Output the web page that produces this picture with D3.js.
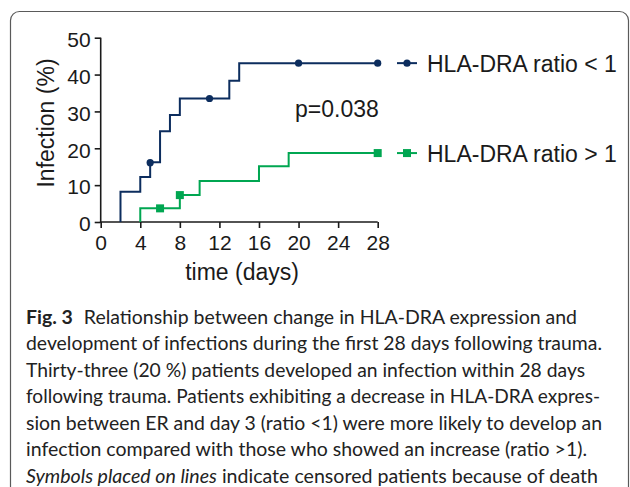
<!DOCTYPE html>
<html><head><meta charset="utf-8">
<script src="https://cdn.jsdelivr.net/npm/d3@7"></script>
<style>body{margin:0;background:#fff}svg{display:block}</style>
</head><body>
<svg id="c" width="630" height="487"></svg>
<script>
// Data
const seriesNames = ["HLA-DRA ratio < 1", "HLA-DRA ratio > 1"];
const lowDays   = [2, 4, 5, 6, 7, 8, 13, 14, 28];
const lowVals   = [8.2, 12.2, 16.2, 24.6, 29.0, 33.5, 38.3, 43.1, 43.1];
const lowCensorDays = [5, 11, 20, 28];
const lowCensorVals = [16.1, 33.5, 43.1, 43.1];
const highDays  = [4, 8, 10, 16, 19, 28];
const highVals  = [3.7, 7.3, 11.1, 15.1, 18.7, 18.7];
const highCensorDays = [6, 8, 28];
const highCensorVals = [3.7, 7.3, 18.7];
const xTicks = [0, 4, 8, 12, 16, 20, 24, 28];
const yTicks = [0, 10, 20, 30, 40, 50];
const pText = "p=0.038";
const captionBold = "Fig. 3";
const captionLines = [
  "Relationship between change in HLA-DRA expression and",
  "development of infections during the first 28 days following trauma.",
  "Thirty-three (20 %) patients developed an infection within 28 days",
  "following trauma. Patients exhibiting a decrease in HLA-DRA expres-",
  "sion between ER and day 3 (ratio <1) were more likely to develop an",
  "infection compared with those who showed an increase (ratio >1).",
  "Symbols placed on lines indicate censored patients because of death"
];
const captionEnds = [577, 602, 585, 600, 602, 587, 598];

const blue = "#0c2d5e", green = "#00a651", ink = "#1a1a1a";
const svg = d3.select("#c");

// card
svg.append("rect").attr("x",10.5).attr("y",11.5).attr("width",618).attr("height",520)
  .attr("rx",9).attr("fill","none").attr("stroke","#5a5a5a").attr("stroke-width",1.2);

const x = d3.scaleLinear().domain([0,28]).range([100.7,377.7]);
const y = d3.scaleLinear().domain([0,50]).range([222,37.7]);

const font = "'Liberation Sans', Arial, Helvetica, sans-serif";

const yAxis = svg.append("g").attr("transform",`translate(${x(0)},0)`)
  .call(d3.axisLeft(y).tickValues(yTicks).tickSize(6).tickPadding(4));
const xAxis = svg.append("g").attr("transform",`translate(0,${y(0)})`)
  .call(d3.axisBottom(x).tickValues(xTicks).tickSize(6).tickPadding(7));
[yAxis, xAxis].forEach(a=>{
  a.selectAll("line").attr("stroke",ink).attr("stroke-width",1.6);
  a.selectAll("text").attr("font-family",font).attr("font-size",21).attr("fill",ink);
  a.select(".domain").remove();
});
yAxis.selectAll("text").attr("dy","0.42em");
svg.append("line").attr("x1",x(0)).attr("x2",x(0)).attr("y1",y(50)).attr("y2",y(0)+0.8)
  .attr("stroke",ink).attr("stroke-width",1.6);
svg.append("line").attr("x1",x(0)-0.8).attr("x2",x(28)).attr("y1",y(0)).attr("y2",y(0))
  .attr("stroke",ink).attr("stroke-width",1.6);

// step lines
function stepPts(days, vals){
  const pts=[[days[0],0]];
  days.forEach((d,i)=>pts.push([d,vals[i]]));
  return pts;
}
const line = d3.line().x(d=>x(d[0])).y(d=>y(d[1])).curve(d3.curveStepAfter);
svg.append("path").attr("d",line(stepPts(highDays,highVals))).attr("fill","none")
  .attr("stroke",green).attr("stroke-width",2);
svg.append("path").attr("d",line(stepPts(lowDays,lowVals))).attr("fill","none")
  .attr("stroke",blue).attr("stroke-width",2);

// censor marks
svg.selectAll(".bc").data(lowCensorDays).enter().append("circle")
  .attr("cx",d=>x(d)).attr("cy",(d,i)=>y(lowCensorVals[i])).attr("r",3.6).attr("fill",blue);
svg.selectAll(".gc").data(highCensorDays).enter().append("rect")
  .attr("x",d=>x(d)-4).attr("y",(d,i)=>y(highCensorVals[i])-4).attr("width",8).attr("height",8).attr("fill",green);

// legend
const legY = [y(43.1), y(18.7)];
[0,1].forEach(i=>{
  const c = i===0?blue:green;
  svg.append("line").attr("x1",397).attr("x2",417).attr("y1",legY[i]).attr("y2",legY[i])
    .attr("stroke",c).attr("stroke-width",2);
  if(i===0) svg.append("circle").attr("cx",407).attr("cy",legY[i]).attr("r",3.6).attr("fill",c);
  else svg.append("rect").attr("x",403).attr("y",legY[i]-4).attr("width",8).attr("height",8).attr("fill",c);
  svg.append("text").attr("x",427).attr("y",legY[i]+8.5).attr("font-family",font)
    .attr("font-size",23).attr("fill",ink).text(seriesNames[i]);
});

svg.append("text").attr("x",295).attr("y",117).attr("font-family",font).attr("font-size",23)
  .attr("fill",ink).text(pText);

svg.append("text").attr("x",242).attr("y",280).attr("text-anchor","middle").attr("font-family",font)
  .attr("font-size",23).attr("fill",ink).text("time (days)");
svg.append("text").attr("transform","translate(54,123) rotate(-90)").attr("text-anchor","middle")
  .attr("font-family",font).attr("font-size",23).attr("fill",ink).text("Infection (%)");

// caption
const capFont = "Lato, 'Open Sans', sans-serif";
captionLines.forEach((ln,i)=>{
  const t = svg.append("text").attr("y",323.5+i*26.5).attr("x",26).attr("font-family",capFont)
    .attr("font-size",19.5).attr("fill","#222");
  if(i===0){
    t.append("tspan").attr("font-weight","bold").text(captionBold);
    t.append("tspan").attr("dx",11).text(ln);
  } else if(i===6){
    t.append("tspan").attr("font-style","italic").text("Symbols placed on lines");
    t.append("tspan").text(" indicate censored patients because of death");
  } else {
    t.text(ln);
  }
  t.attr("textLength",captionEnds[i]-26).attr("lengthAdjust","spacingAndGlyphs");
});
</script>
</body></html>
